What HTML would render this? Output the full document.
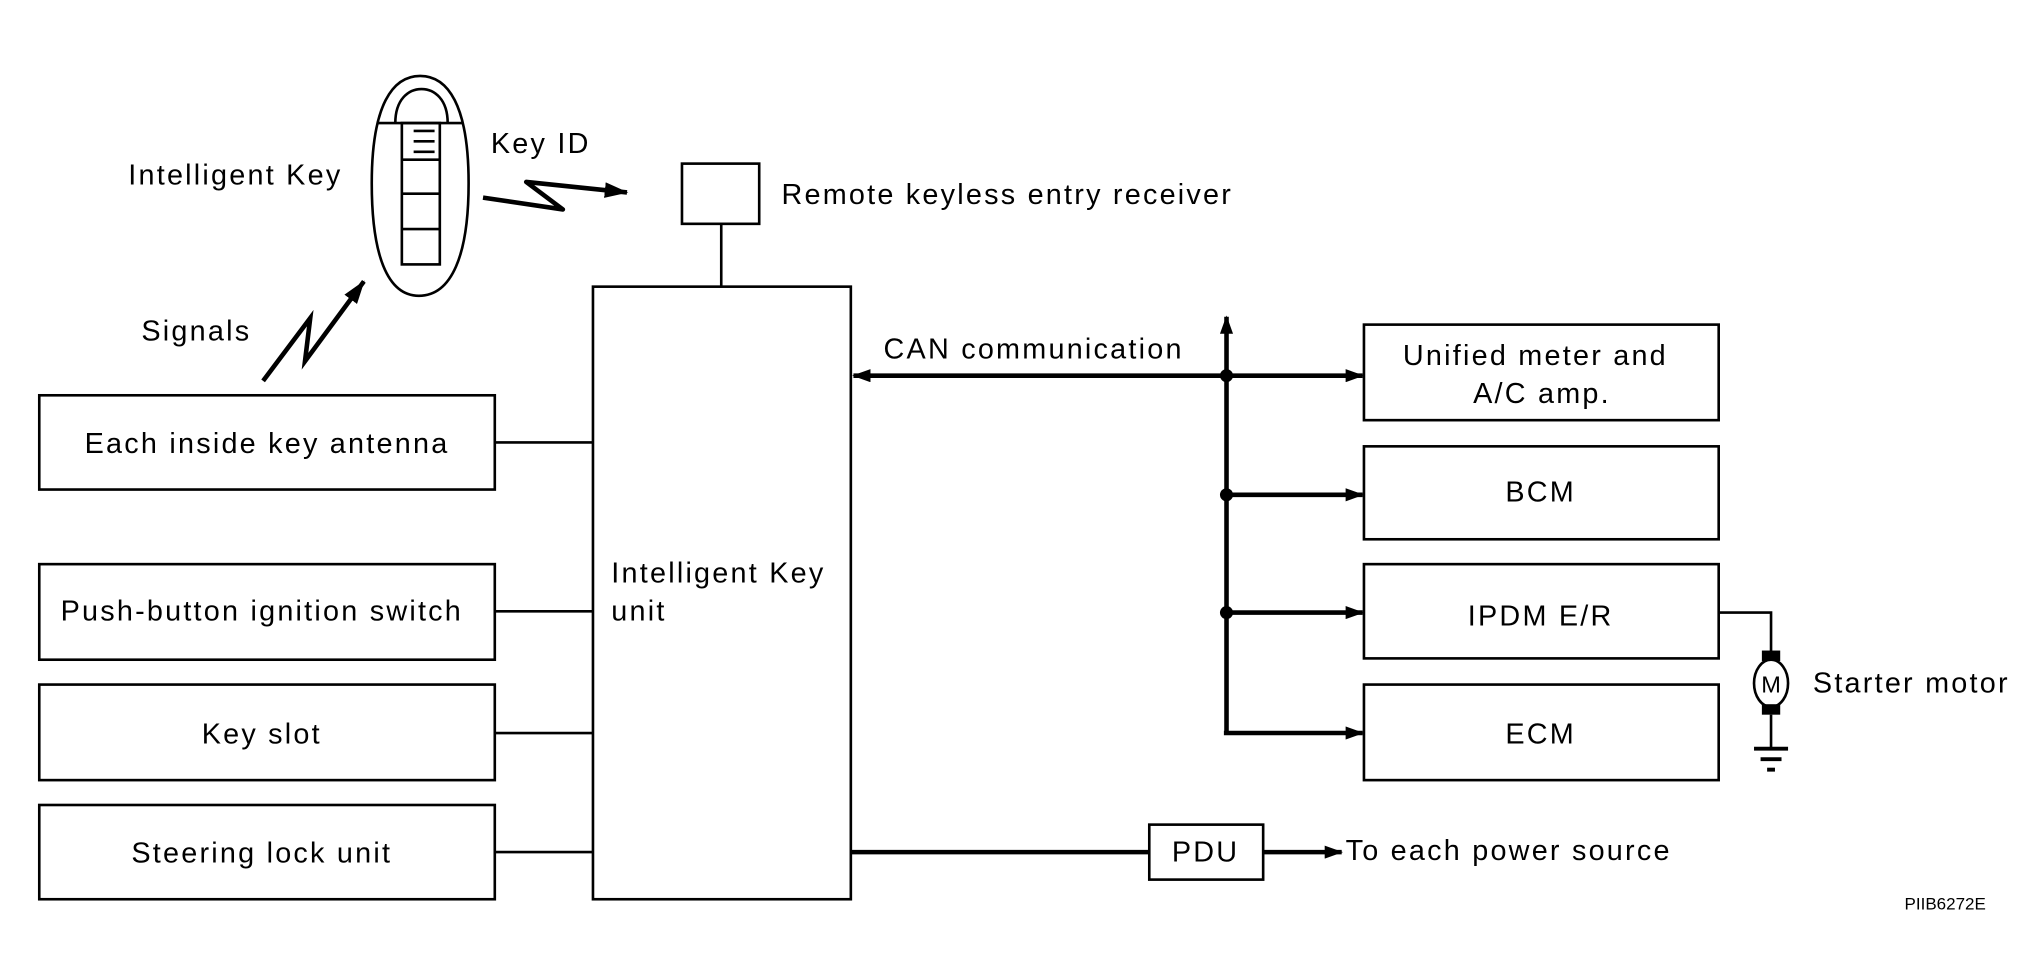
<!DOCTYPE html>
<html><head><meta charset="utf-8"><style>
html,body{margin:0;padding:0;background:#fff}
svg{display:block}
text{font-family:"Liberation Sans",sans-serif;font-size:22px;letter-spacing:1.7px;fill:#000}
</style></head><body>
<svg width="2042" height="980" viewBox="0 0 1560 748.7" preserveAspectRatio="none">
<defs>
<marker id="ah" markerWidth="14" markerHeight="10" refX="13" refY="5" orient="auto" markerUnits="userSpaceOnUse">
<path d="M0,0 L14,5 L0,10 Z" fill="#000"/></marker>
<marker id="ah2" markerWidth="18" markerHeight="12" refX="17" refY="6" orient="auto" markerUnits="userSpaceOnUse">
<path d="M0,0 L18,6 L0,12 Z" fill="#000"/></marker>
</defs>
<g fill="none" stroke="#000" stroke-width="2">
<path d="M284,140 C284,80 300,58 321,58 C342,58 358,80 358,140 C358,195 345,226 320,226 C296,226 284,195 284,140 Z"/>
<line x1="288" y1="94" x2="354" y2="94"/>
<path d="M302,94 C302,76 312,68 322,68 C332,68 342,76 342,94"/>
<rect x="307" y="94" width="29" height="108"/>
<line x1="307" y1="122" x2="336" y2="122"/>
<line x1="307" y1="148" x2="336" y2="148"/>
<line x1="307" y1="175" x2="336" y2="175"/>
<line x1="316" y1="100" x2="332" y2="100"/>
<line x1="316" y1="108" x2="332" y2="108"/>
<line x1="316" y1="116" x2="332" y2="116"/>
<polyline points="369,151 430,160 402,139 479,147" stroke-width="3.5" stroke-linejoin="round" marker-end="url(#ah2)"/>
<polyline points="201,291 237,243 233,276 278,215" stroke-width="3.5" marker-end="url(#ah2)"/>
<rect x="521" y="125" width="59" height="46"/>
<line x1="551" y1="171" x2="551" y2="219"/>
<rect x="453" y="219" width="197" height="468"/>
<rect x="30" y="302" width="348" height="72"/>
<rect x="30" y="431" width="348" height="73"/>
<rect x="30" y="523" width="348" height="73"/>
<rect x="30" y="615" width="348" height="72"/>
<line x1="378" y1="338" x2="453" y2="338"/>
<line x1="378" y1="467" x2="453" y2="467"/>
<line x1="378" y1="560" x2="453" y2="560"/>
<line x1="378" y1="651" x2="453" y2="651"/>
<rect x="1042" y="248" width="271" height="73"/>
<rect x="1042" y="341" width="271" height="71"/>
<rect x="1042" y="431" width="271" height="72"/>
<rect x="1042" y="523" width="271" height="73"/>
<rect x="878" y="630" width="87" height="42"/>
<g stroke-width="3.5">
<line x1="937" y1="287" x2="652" y2="287" marker-end="url(#ah)"/>
<polyline points="937,560 937,242" marker-end="url(#ah)"/>
<line x1="937" y1="287" x2="1041" y2="287" marker-end="url(#ah)"/>
<line x1="937" y1="378" x2="1041" y2="378" marker-end="url(#ah)"/>
<line x1="937" y1="468" x2="1041" y2="468" marker-end="url(#ah)"/>
<line x1="935" y1="560" x2="1041" y2="560" marker-end="url(#ah)"/>
<line x1="650" y1="651" x2="878" y2="651"/>
<line x1="965" y1="651" x2="1025" y2="651" marker-end="url(#ah)"/>
</g>
<polyline points="1313,468 1353,468 1353,498"/>
<ellipse cx="1353" cy="522" rx="13" ry="18"/>
<line x1="1353" y1="546" x2="1353" y2="572"/>
<line x1="1340" y1="572" x2="1366" y2="572" stroke-width="3"/>
<line x1="1345" y1="580" x2="1361" y2="580" stroke-width="3"/>
<line x1="1350" y1="588" x2="1356" y2="588" stroke-width="3"/>
</g>
<rect x="1346" y="497" width="14" height="8" fill="#000"/>
<rect x="1346" y="538" width="14" height="8" fill="#000"/>
<circle cx="937" cy="287" r="5" fill="#000"/>
<circle cx="937" cy="378" r="5" fill="#000"/>
<circle cx="937" cy="468" r="5" fill="#000"/>
<g>
<text x="98" y="141">Intelligent Key</text>
<text x="375" y="117">Key ID</text>
<text x="108" y="260">Signals</text>
<text x="597" y="156">Remote keyless entry receiver</text>
<text x="204" y="346" text-anchor="middle">Each inside key antenna</text>
<text x="200" y="474" text-anchor="middle">Push-button ignition switch</text>
<text x="200" y="568" text-anchor="middle">Key slot</text>
<text x="200" y="659" text-anchor="middle">Steering lock unit</text>
<text x="467" y="445">Intelligent Key</text>
<text x="467" y="474">unit</text>
<text x="675" y="274">CAN communication</text>
<text x="1173" y="279" text-anchor="middle">Unified meter and</text>
<text x="1178" y="308" text-anchor="middle">A/C amp.</text>
<text x="1177" y="383" text-anchor="middle">BCM</text>
<text x="1177" y="478" text-anchor="middle">IPDM E/R</text>
<text x="1177" y="568" text-anchor="middle">ECM</text>
<text x="1353" y="529" text-anchor="middle" style="font-size:18px;letter-spacing:0">M</text>
<text x="1385" y="529">Starter motor</text>
<text x="921" y="658" text-anchor="middle">PDU</text>
<text x="1028" y="657">To each power source</text>
<text x="1455" y="695" style="font-size:13px;letter-spacing:0">PIIB6272E</text>
</g>
</svg>
</body></html>
